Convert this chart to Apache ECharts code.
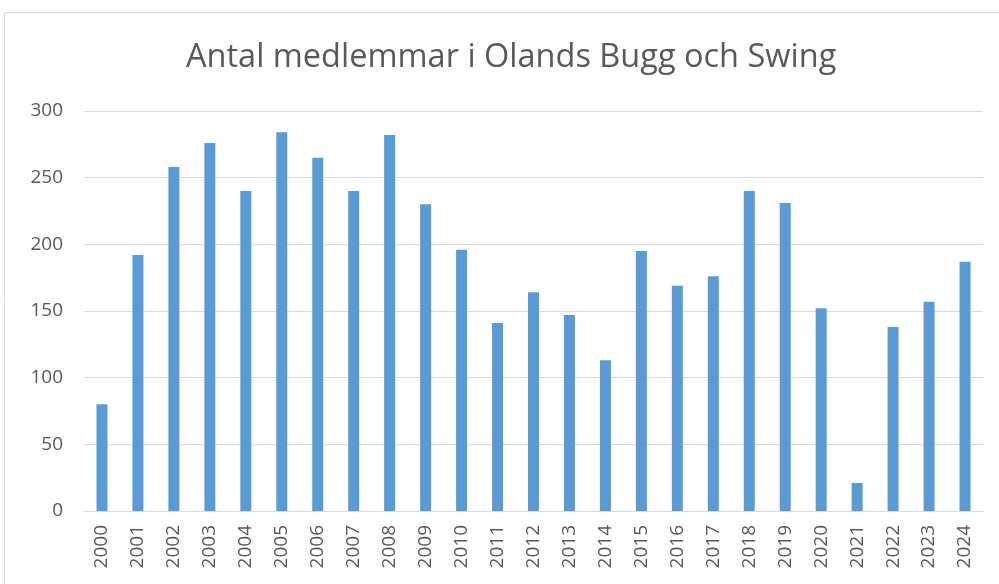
<!DOCTYPE html>
<html><head><meta charset="utf-8">
<script src="https://cdn.jsdelivr.net/npm/echarts@6/dist/echarts.min.js"></script>
<style>html,body{margin:0;padding:0;background:#fff}#c{width:999px;height:584px}</style>
</head><body><div id="c"></div>
<script>
const titleText = 'Antal medlemmar i Olands Bugg och Swing';
const years = ['2000','2001','2002','2003','2004','2005','2006','2007','2008','2009','2010','2011','2012','2013','2014','2015','2016','2017','2018','2019','2020','2021','2022','2023','2024'];
const members = [80,192,258,276,240,284,265,240,282,230,196,141,164,147,113,195,169,176,240,231,152,21,138,157,187];
const yTicks = [0,50,100,150,200,250,300];

const chart = echarts.init(document.getElementById('c'), null, {renderer:'canvas'});
chart.setOption({
  animation:false,
  graphic:[{type:'rect',shape:{x:4.5,y:12.5,width:1000,height:600},style:{fill:'none',stroke:'#D9D9D9',lineWidth:1},z:-1}],
  title:{text:titleText,left:181,top:36,padding:5,textStyle:{fontFamily:'Open Sans',fontSize:32.5,fontWeight:'normal',color:'#595959'}},
  grid:{left:84,right:16,top:111,bottom:73},
  xAxis:{type:'category',data:years,
    axisLine:{lineStyle:{color:'#D9D9D9',width:1}},axisTick:{show:false},
    axisLabel:{rotate:90,interval:0,margin:14,fontFamily:'Open Sans',fontSize:19,color:'#595959'}},
  yAxis:{type:'value',min:yTicks[0],max:yTicks[yTicks.length-1],interval:50,
    axisLine:{show:false},axisTick:{show:false},
    splitLine:{lineStyle:{color:'#D9D9D9',width:1}},
    axisLabel:{margin:21,fontFamily:'Open Sans',fontSize:19,color:'#595959'}},
  series:[{type:'bar',data:members,barWidth:11,itemStyle:{color:'#5B9BD5'}}]
});
</script></body></html>
